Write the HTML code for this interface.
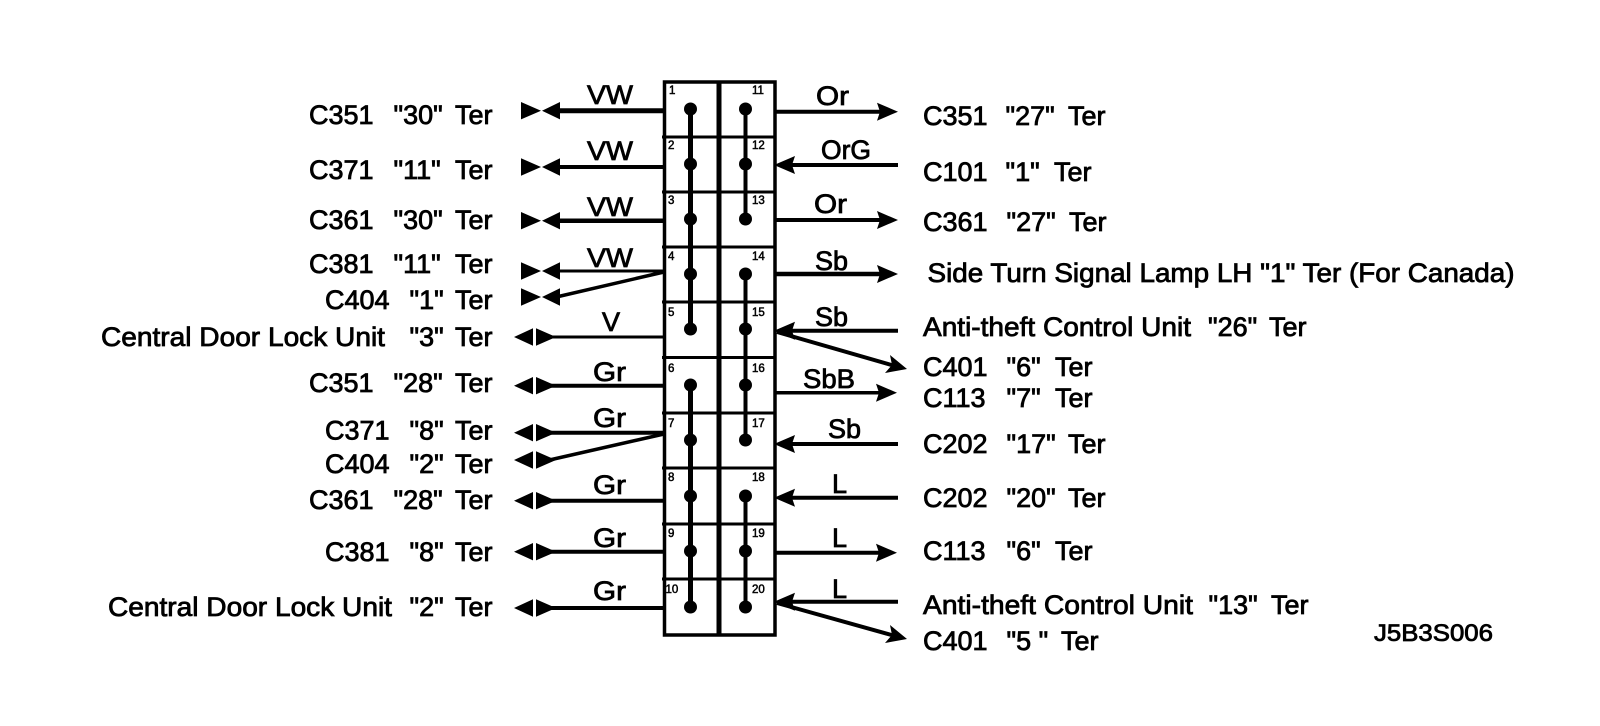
<!DOCTYPE html>
<html><head><meta charset="utf-8"><style>
html,body{margin:0;padding:0;background:#fff;width:1600px;height:726px;overflow:hidden}
svg{display:block}
text{font-family:"Liberation Sans",Arial,sans-serif;font-size:27px;fill:#000;stroke:#000;stroke-width:.8px}
.n{font-size:11.5px;stroke-width:.5px}
.w{fill:none;stroke:#000}
</style></head><body>
<svg width="1600" height="726" viewBox="0 0 1600 726" xmlns="http://www.w3.org/2000/svg">
<rect width="1600" height="726" fill="#fff"/>
<!-- box -->
<g class="w">
<rect x="664.5" y="82" width="110.5" height="553" stroke-width="3.5"/>
<path d="M719 82V635" stroke-width="5"/>
<path d="M662 137H776M662 192H776M662 247H776M662 302H776M662 357.500H776M662 413H776M662 468H776M662 524H776M662 579H776" stroke-width="3"/>
<path d="M690.500 109V329M690.500 385V607" stroke-width="5"/>
<path d="M745.500 109V219M745.500 274V440M745.500 496V607" stroke-width="4"/>
</g>
<g fill="#000">
<circle cx="690.500" cy="109" r="6.500"/><circle cx="690.500" cy="164" r="6.500"/><circle cx="690.500" cy="219" r="6.500"/><circle cx="690.500" cy="274" r="6.500"/><circle cx="690.500" cy="329" r="6.500"/><circle cx="690.500" cy="385" r="6.500"/><circle cx="690.500" cy="440" r="6.500"/><circle cx="690.500" cy="496" r="6.500"/><circle cx="690.500" cy="551" r="6.500"/><circle cx="690.500" cy="607" r="6.500"/>
<circle cx="745.500" cy="109" r="6.500"/><circle cx="745.500" cy="164" r="6.500"/><circle cx="745.500" cy="219" r="6.500"/><circle cx="745.500" cy="274" r="6.500"/><circle cx="745.500" cy="329" r="6.500"/><circle cx="745.500" cy="385" r="6.500"/><circle cx="745.500" cy="440" r="6.500"/><circle cx="745.500" cy="496" r="6.500"/><circle cx="745.500" cy="551" r="6.500"/><circle cx="745.500" cy="607" r="6.500"/>
</g>
<!-- pin numbers -->
<text class="n" x="669" y="94">1</text><text class="n" x="668" y="149">2</text><text class="n" x="668" y="204">3</text><text class="n" x="668" y="260">4</text><text class="n" x="668" y="316">5</text><text class="n" x="668" y="372">6</text><text class="n" x="668" y="427">7</text><text class="n" x="668" y="481">8</text><text class="n" x="668" y="537">9</text><text class="n" x="665.500" y="593">10</text>
<text class="n" x="752" y="94">11</text><text class="n" x="752" y="149">12</text><text class="n" x="752" y="204">13</text><text class="n" x="752" y="260">14</text><text class="n" x="752" y="316">15</text><text class="n" x="752" y="372">16</text><text class="n" x="752" y="427">17</text><text class="n" x="752" y="481">18</text><text class="n" x="752" y="537">19</text><text class="n" x="752" y="593">20</text>
<!-- left wires -->
<g class="w">
<path d="M664 110.700H550" stroke-width="5"/>
<path d="M664 167H550" stroke-width="4"/>
<path d="M664 220.700H550" stroke-width="4.500"/>
<path d="M664 271H550" stroke-width="3"/>
<path d="M664 272L552 298" stroke-width="3.500"/>
<path d="M664 337H545" stroke-width="3"/>
<path d="M664 385.700H545" stroke-width="4"/>
<path d="M664 432.700H545" stroke-width="4"/>
<path d="M664 434L545 461" stroke-width="3.500"/>
<path d="M664 500.700H545" stroke-width="4"/>
<path d="M664 551.700H545" stroke-width="4"/>
<path d="M664 608H545" stroke-width="4"/>
</g>
<g fill="#000">
<path d="M521 102L541 110.700L521 119.400ZM542 110.700L560 102V119.400Z"/>
<path d="M521 158.300L541 167L521 175.700ZM542 167L560 158.300V175.700Z"/>
<path d="M521 212L541 220.700L521 229.400ZM542 220.700L560 212V229.400Z"/>
<path d="M521 262.300L541 271L521 279.700ZM542 271L560 262.300V279.700Z"/>
<path d="M521 288.300L541 297L521 305.700ZM542 297L560 288.300V305.700Z"/>
<path d="M514 337L533 328.300V345.700ZM536 328.300L556 337L536 345.700Z"/>
<path d="M514 385.700L533 377V394.400ZM536 377L556 385.700L536 394.400Z"/>
<path d="M514 432.700L533 424V441.400ZM536 424L556 432.700L536 441.400Z"/>
<path d="M514 460L533 451.300V468.700ZM536 451.300L556 460L536 468.700Z"/>
<path d="M514 500.700L533 492V509.400ZM536 492L556 500.700L536 509.400Z"/>
<path d="M514 551.700L533 543V560.400ZM536 543L556 551.700L536 560.400Z"/>
<path d="M514 608L533 599.300V616.700ZM536 599.300L556 608L536 616.700Z"/>
</g>
<!-- right wires -->
<g class="w">
<path d="M775 111.700H885" stroke-width="4"/>
<path d="M785 165H898" stroke-width="4"/>
<path d="M775 220H885" stroke-width="4"/>
<path d="M775 274H885" stroke-width="4.500"/>
<path d="M785 330.700H898" stroke-width="4"/>
<path d="M777 332L895 366" stroke-width="4"/>
<path d="M775 392.700H885" stroke-width="3.500"/>
<path d="M785 444H898" stroke-width="4"/>
<path d="M785 497.700H898" stroke-width="4"/>
<path d="M775 552.700H885" stroke-width="4"/>
<path d="M785 601.700H898" stroke-width="4"/>
<path d="M777 603L895 636" stroke-width="4"/>
</g>
<g fill="#000">
<path d="M898 111.700L877 102.700L880 111.700L877 120.700Z"/>
<path d="M774 165L795 156L792 165L795 174Z"/>
<path d="M898 220L877 211L880 220L877 229Z"/>
<path d="M898 274L877 265L880 274L877 283Z"/>
<path d="M774 330.700L795 321.700L792 330.700L795 339.700Z"/>
<path d="M907 369L890 355L892 365L885 373Z"/>
<path d="M897 392.700L876 383.700L879 392.700L876 401.700Z"/>
<path d="M774 444L795 435L792 444L795 453Z"/>
<path d="M774 497.700L795 488.700L792 497.700L795 506.700Z"/>
<path d="M897 552.700L876 543.700L879 552.700L876 561.700Z"/>
<path d="M774 601.700L795 592.700L792 601.700L795 610.700Z"/>
<path d="M907 639L890 625L892 635L885 643Z"/>
</g>
<!-- wire labels -->
<text x="587" y="104" textLength="46" lengthAdjust="spacingAndGlyphs">VW</text>
<text x="587" y="160" textLength="46" lengthAdjust="spacingAndGlyphs">VW</text>
<text x="587" y="216" textLength="46" lengthAdjust="spacingAndGlyphs">VW</text>
<text x="587" y="267" textLength="46" lengthAdjust="spacingAndGlyphs">VW</text>
<text x="602" y="331">V</text>
<text x="593" y="381" textLength="33" lengthAdjust="spacingAndGlyphs">Gr</text>
<text x="593" y="427" textLength="33" lengthAdjust="spacingAndGlyphs">Gr</text>
<text x="593" y="494" textLength="33" lengthAdjust="spacingAndGlyphs">Gr</text>
<text x="593" y="547" textLength="33" lengthAdjust="spacingAndGlyphs">Gr</text>
<text x="593" y="600" textLength="33" lengthAdjust="spacingAndGlyphs">Gr</text>
<text x="816" y="105" textLength="33" lengthAdjust="spacingAndGlyphs">Or</text>
<text x="821" y="159" textLength="50" lengthAdjust="spacingAndGlyphs">OrG</text>
<text x="814" y="213" textLength="33" lengthAdjust="spacingAndGlyphs">Or</text>
<text x="815" y="270" textLength="33" lengthAdjust="spacingAndGlyphs">Sb</text>
<text x="815" y="326" textLength="33" lengthAdjust="spacingAndGlyphs">Sb</text>
<text x="803" y="388" textLength="52" lengthAdjust="spacingAndGlyphs">SbB</text>
<text x="828" y="438" textLength="33" lengthAdjust="spacingAndGlyphs">Sb</text>
<text x="832" y="493">L</text>
<text x="832" y="547">L</text>
<text x="832" y="598">L</text>
<!-- left labels -->
<text y="124"><tspan x="309">C351</tspan><tspan x="393.500">"30"</tspan><tspan x="455">Ter</tspan></text>
<text y="179"><tspan x="309">C371</tspan><tspan x="393.500">"11"</tspan><tspan x="455">Ter</tspan></text>
<text y="229"><tspan x="309">C361</tspan><tspan x="393.500">"30"</tspan><tspan x="455">Ter</tspan></text>
<text y="273"><tspan x="309">C381</tspan><tspan x="393.500">"11"</tspan><tspan x="455">Ter</tspan></text>
<text y="309"><tspan x="325">C404</tspan><tspan x="409.500">"1"</tspan><tspan x="455">Ter</tspan></text>
<text x="101" y="346" textLength="284" lengthAdjust="spacingAndGlyphs">Central Door Lock Unit</text>
<text y="346"><tspan x="409.500">"3"</tspan><tspan x="455">Ter</tspan></text>
<text y="392"><tspan x="309">C351</tspan><tspan x="393.500">"28"</tspan><tspan x="455">Ter</tspan></text>
<text y="439.500"><tspan x="325">C371</tspan><tspan x="409.500">"8"</tspan><tspan x="455">Ter</tspan></text>
<text y="473"><tspan x="325">C404</tspan><tspan x="409.500">"2"</tspan><tspan x="455">Ter</tspan></text>
<text y="509"><tspan x="309">C361</tspan><tspan x="393.500">"28"</tspan><tspan x="455">Ter</tspan></text>
<text y="561"><tspan x="325">C381</tspan><tspan x="409.500">"8"</tspan><tspan x="455">Ter</tspan></text>
<text x="108" y="616" textLength="284" lengthAdjust="spacingAndGlyphs">Central Door Lock Unit</text>
<text y="616"><tspan x="409.500">"2"</tspan><tspan x="455">Ter</tspan></text>
<!-- right labels -->
<text y="125"><tspan x="923">C351</tspan><tspan x="1005.500">"27"</tspan><tspan x="1068">Ter</tspan></text>
<text y="181"><tspan x="923">C101</tspan><tspan x="1005.500">"1"</tspan><tspan x="1054">Ter</tspan></text>
<text y="231"><tspan x="923">C361</tspan><tspan x="1006.500">"27"</tspan><tspan x="1069">Ter</tspan></text>
<text x="927.500" y="282" textLength="587" lengthAdjust="spacingAndGlyphs">Side Turn Signal Lamp LH "1" Ter (For Canada)</text>
<text x="923" y="336" textLength="268" lengthAdjust="spacingAndGlyphs">Anti-theft Control Unit</text>
<text y="336"><tspan x="1208">"26"</tspan><tspan x="1269">Ter</tspan></text>
<text y="376"><tspan x="923">C401</tspan><tspan x="1006.500">"6"</tspan><tspan x="1055">Ter</tspan></text>
<text y="407"><tspan x="923">C113</tspan><tspan x="1006.500">"7"</tspan><tspan x="1055">Ter</tspan></text>
<text y="453"><tspan x="923">C202</tspan><tspan x="1006.500">"17"</tspan><tspan x="1068">Ter</tspan></text>
<text y="507"><tspan x="923">C202</tspan><tspan x="1006.500">"20"</tspan><tspan x="1068">Ter</tspan></text>
<text y="560"><tspan x="923">C113</tspan><tspan x="1006.500">"6"</tspan><tspan x="1055">Ter</tspan></text>
<text x="923" y="614" textLength="270" lengthAdjust="spacingAndGlyphs">Anti-theft Control Unit</text>
<text y="614"><tspan x="1208.500">"13"</tspan><tspan x="1271">Ter</tspan></text>
<text y="650"><tspan x="923">C401</tspan><tspan x="1006.500">"5 "</tspan><tspan x="1061">Ter</tspan></text>
<text x="1374" y="641" textLength="119" lengthAdjust="spacingAndGlyphs" style="font-size:24px">J5B3S006</text>
</svg>
</body></html>
